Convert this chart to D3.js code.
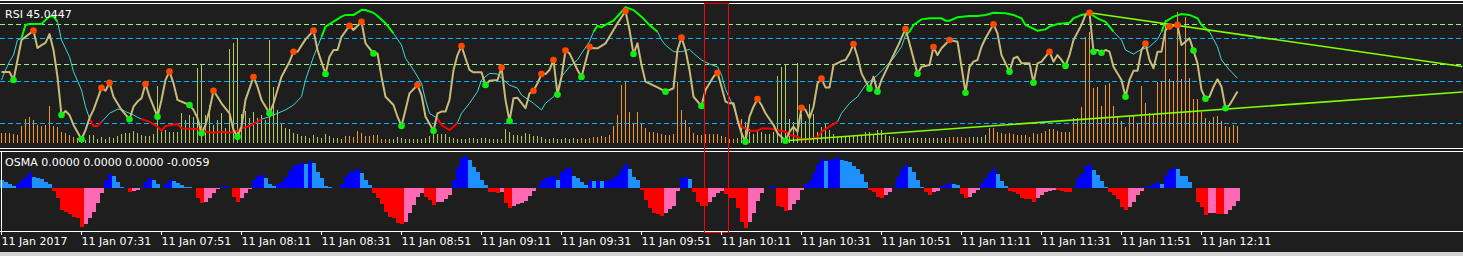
<!DOCTYPE html>
<html lang="en">
  <head>
    <meta charset="UTF-8" />
    <title>RSI / OSMA</title>
    <style>
      body { margin: 0; background: #1e1e1e; }
      svg { display: block; }
      text { font-family: 'DejaVu Sans', sans-serif; font-size: 11px; fill: #ffffff; }
      .crisp { shape-rendering: crispEdges; }
    </style>
    <script src="https://cdn.jsdelivr.net/npm/d3@7"></script>
  </head>
  <body>
    <svg width="1463" height="256"></svg>
    <script>
      // one bar per minute, bar 0 = 11 Jan 07:11
      var tickLabels = ['11 Jan 2017', '11 Jan 07:31', '11 Jan 07:51', '11 Jan 08:11', '11 Jan 08:31',
        '11 Jan 08:51', '11 Jan 09:11', '11 Jan 09:31', '11 Jan 09:51', '11 Jan 10:11', '11 Jan 10:31',
        '11 Jan 10:51', '11 Jan 11:11', '11 Jan 11:31', '11 Jan 11:51', '11 Jan 12:11']
      var tickEvery = 20

      // RSI line (bar, value)
      var rsiBars = [0,2,3,5,8,9,10,11,12,13,14,15,16,17,18,20,21,22,23,25,26,27,28,30,32,33,34,35,36,37,39,40,41,42,43,44,47,48,49,50,
        51,52,53,54,55,57,58,59,60,61,62,63,64,65,67,68,69,70,72,73,74,76,78,79,81,82,83,84,85,87,88,90,91,93,94,95,96,98,99,100,
        101,102,104,105,106,108,109,110,111,112,113,114,115,116,117,118,120,121,122,124,125,126,127,128,129,131,132,133,134,135,136,137,138,139,140,
        141,142,143,144,145,146,147,148,149,151,152,154,156,157,158,159,160,161,164,166,168,169,170,171,172,173,175,176,178,179,180,
        181,182,183,184,185,186,187,188,189,190,191,193,194,196,197,198,199,200,201,202,203,204,205,206,207,208,210,211,212,213,214,215,217,218,219,220,
        222,224,226,227,229,230,232,233,234,235,237,239,240,241,242,243,244,245,246,248,249,250,252,253,254,255,257,258,259,260,
        262,263,264,265,266,267,268,270,271,272,273,274,275,276,277,278,280,281,282,283,284,285,286,287,288,289,290,
        291,292,294,295,296,297,298,299,300,301,302,303,304,305,306,307,308,309]
      var rsiVals = [54.2,54.2,50.5,69.3,73.7,65.5,66.9,67.9,72.1,64.6,51.9,34.0,35.9,34.0,29.3,22.6,26.9,32.6,36.4,46.8,45.4,49.2,42.6,36.4,32.0,37.9,40.3,41.9,48.6,42.6,33.2,41.1,50.5,54.4,48.9,41.1,38.7,36.4,32.6,25.4,
        29.3,36.4,45.4,42.6,39.5,34.8,26.9,23.8,28.5,41.1,46.5,51.9,47.3,41.1,34.8,39.5,45.8,52.0,59.1,63.8,63.8,69.6,73.7,64.6,53.3,61.4,64.6,64.6,70.8,76.0,74.0,77.9,67.7,63.0,63.0,52.0,42.6,38.7,33.2,28.8,
        36.4,44.2,48.1,43.4,33.2,26.6,34.8,35.6,35.6,41.1,55.2,62.2,66.5,60.7,55.2,54.1,54.1,48.1,50.1,50.5,56.3,41.1,31.2,41.9,42.1,37.2,44.2,45.4,48.9,53.3,53.3,55.2,59.9,43.6,52.0,
        64.3,63.0,59.1,55.2,51.9,59.1,66.1,65.4,65.4,67.7,70.8,77.2,82.9,74.0,62.7,67.7,57.5,49.7,47.0,45.0,46.6,64.6,70.4,64.6,55.2,42.6,38.2,45.8,52.0,53.9,47.3,
        40.3,39.5,39.5,31.6,25.4,21.4,33.2,37.9,41.5,38.7,34.8,29.3,25.4,21.9,26.1,28.5,26.1,37.4,36.4,32.4,37.9,48.9,51.1,47.0,47.0,57.5,59.4,59.9,63.0,67.4,61.4,53.6,46.4,52.0,45.0,50.5,
        58.3,66.1,74.5,67.7,53.4,56.7,57.5,66.0,62.2,65.4,69.3,68.5,56.7,44.5,56.7,59.1,59.9,66.1,70.1,76.7,72.4,62.2,54.4,60.7,61.4,58.3,58.3,49.2,58.3,59.1,
        63.8,59.1,62.2,59.9,57.1,62.2,69.3,76.4,81.1,82.1,63.8,64.6,63.3,64.6,63.8,56.7,50.5,42.6,50.5,54.8,54.8,64.6,67.6,59.9,56.0,63.8,63.8,
        74.0,75.6,76.4,66.9,68.5,70.1,64.3,58.3,45.8,41.7,42.6,47.3,50.8,47.3,37.2,38.7,41.9,45.0447]

      // signal line of the RSI (bar, value)
      var sigBars = [0,1,2,3,4,5,6,7,10,11,12,13,14,15,17,18,20,21,22,23,24,25,27,29,30,31,33,34,35,37,39,40,41,44,45,50,51,53,55,57,59,60,62,65,67,69,71,73,75,76,78,
        80,81,83,85,86,88,90,91,93,94,96,98,100,101,103,105,106,107,109,110,112,113,114,115,117,119,120,122,124,125,127,129,130,133,135,136,138,139,140,142,144,145,147,148,149,150,151,153,155,156,158,
        160,162,164,165,166,168,170,172,173,175,177,179,180,181,183,184,185,187,189,190,192,194,196,197,199,200,202,204,205,207,209,210,212,214,216,219,221,223,225,226,227,228,230,232,235,236,237,239,
        242,244,246,248,251,253,255,256,259,261,262,264,267,268,270,272,274,276,277,278,280,281,283,285,287,289,290,291,293,295,297,299,300,302,304,305,307,309]
      var sigVals = [50.5,55.2,59.1,62.2,69.3,70.1,76.4,76.8,76.8,78.7,80.3,80.3,77.9,69.3,61.4,54.4,45.8,37.9,32.4,28.8,28.8,30.7,34.8,36.7,36.7,35.6,34.0,32.9,32.1,30.8,28.5,26.6,28.8,29.8,27.7,27.3,26.1,25.7,26.1,25.7,26.6,27.7,28.8,32.0,33.2,34.8,36.4,38.7,42.6,50.5,61.4,
        70.8,75.6,77.9,80.3,81.1,81.1,83.4,83.4,82.1,80.6,77.2,72.4,66.9,60.7,55.2,48.9,41.1,34.8,32.4,29.3,26.9,28.5,30.4,34.8,39.5,45.0,50.5,53.6,53.3,51.3,48.1,46.6,43.4,39.5,36.4,39.5,42.6,45.8,52.0,56.7,59.9,63.0,68.5,73.2,75.9,75.3,76.4,78.4,82.6,84.7,83.4,
        80.3,76.4,73.2,69.3,66.9,63.8,63.8,64.9,63.0,59.9,58.0,56.7,52.8,46.0,37.9,32.4,28.5,26.6,26.6,27.7,27.7,26.9,26.1,24.6,23.8,22.6,22.6,23.5,26.1,28.5,30.8,34.8,39.5,42.6,48.1,52.8,56.7,60.7,66.1,71.6,73.2,76.4,79.0,79.5,79.5,78.4,78.4,80.0,
        80.6,80.6,81.1,82.1,81.9,81.1,79.5,76.4,73.7,74.3,75.6,76.8,77.4,79.5,81.1,81.9,79.5,77.9,75.6,73.2,69.3,64.6,62.7,64.9,66.1,69.6,73.2,77.9,80.3,81.5,81.1,79.5,76.4,73.2,66.1,59.9,55.2,51.3]

      // swing markers on the RSI line
      var peakBars = [8,25,27,36,42,53,63,73,78,87,90,104,115,125,133,135,138,141,147,156,170,179,189,200,205,213,226,233,237,248,262,272,286,292,294]
      var troughBars = [3,15,20,32,39,47,50,59,67,81,93,100,108,121,127,139,145,158,166,175,186,196,217,219,229,241,252,258,266,273,275,281,298,301,306]

      var rsiLevelsBlue = [30, 50, 70]
      var rsiLevelsGreen = [57.9, 76.4]
      var sigHigh = 70
      var sigLow = 32.5

      // tick volume per bar
      var volume = [10,10,10,9,8,17,24,26,23,18,17,18,37,17,16,11,10,8,6,5,
        6,3,8,8,4,6,4,6,5,7,9,10,10,12,10,8,7,7,9,57,
        13,13,11,11,11,30,23,28,26,75,78,28,38,18,23,30,15,94,100,105,
        29,32,25,31,25,28,23,103,56,33,19,15,14,10,9,7,7,5,8,6,
        5,9,7,5,5,4,7,7,6,12,10,7,7,8,8,4,4,4,4,6,
        5,4,4,4,4,4,5,7,9,9,9,9,6,5,4,4,4,5,5,4,
        5,5,4,4,4,4,14,11,8,8,7,10,9,7,7,6,4,4,5,4,
        4,5,4,5,4,5,4,5,6,6,7,6,8,17,28,58,62,31,20,31,
        19,15,11,11,10,9,8,8,9,61,33,23,16,10,8,8,9,9,9,9,
        7,6,4,4,5,24,21,14,9,12,11,9,9,11,67,76,79,24,21,80,
        29,22,39,29,11,16,19,13,9,6,7,7,7,7,7,7,11,11,8,13,
        13,8,7,6,5,5,5,5,5,5,5,5,5,5,5,5,5,6,6,6,
        6,5,6,6,6,6,8,15,15,11,10,9,10,9,8,8,8,6,10,9,
        10,12,14,14,12,11,11,11,25,25,36,106,111,55,56,37,58,60,37,27,
        22,16,26,28,19,57,40,30,28,61,61,123,64,62,131,64,126,65,44,44,
        31,25,22,26,27,22,17,16,18,17]
      // bar ranges drawn in the second volume colour
      var volOrangeRanges = [[0, 19], [86, 96], [145, 145], [147, 183], [237, 242], [247, 309]]

      // OsMA histogram per bar
      var osma = [.00386,.00279,.00186,.00126,.00186,.00386,.00544,.00698,.00544,.00465,
        .00419,.00312,.00186,-.00126,-.00432,-.01009,-.01083,-.01195,-.01316,-.01395,
        -.01781,-.01674,-.01395,-.01083,-.00698,-.00233,.00386,.00651,.00591,.00312,
        .00079,.00014,-.00153,-.00126,-.00079,.00079,.00312,.00465,.00386,.00186,
        .00033,.00186,.00386,.00339,.00233,.00153,.00079,.00047,.00033,-.00465,
        -.00698,-.00618,-.00432,-.00233,-.00047,.00079,.00126,.00033,-.00386,-.00618,
        -.00432,-.00233,-.00014,.00386,.00591,.00618,.00465,.00186,.00107,.00186,
        .00279,.00544,.00804,.01056,.0113,.01163,.01144,.01269,.01163,.00777,
        .00465,.00126,.00079,.00023,.00033,.00186,.00544,.00744,.00804,.00897,
        .00721,.00386,.0014,-.00233,-.00432,-.00744,-.01083,-.01316,-.01395,-.01628,
        -.01651,-.01548,-.01163,-.00777,-.00386,-.00233,-.00386,-.00544,-.00777,-.00651,
        -.00642,-.00498,-.00312,.00386,.01009,.01395,.01502,.01316,.01009,.00744,
        .00386,.00153,-.00153,-.00186,-.00233,-.00153,-.00698,-.00897,-.00804,-.00744,
        -.00698,-.00591,-.00339,-.00126,.00079,.00339,.00465,.00544,.00553,.00386,
        .00777,.00897,.0093,.00591,.00465,.00279,.00153,.00339,.0033,.00339,
        .0033,.00339,.00386,.00465,.00618,.00897,.01116,.00897,.00544,.00386,
        -.00079,-.00544,-.00897,-.01163,-.01209,-.01269,-.01163,-.00963,-.00804,-.00126,
        .00498,.00507,.00432,-.00153,-.00618,-.00804,-.00814,-.00651,-.00386,-.00233,
        -.00126,-.00279,-.00432,-.00446,-.00897,-.01581,-.01827,-.01581,-.01163,-.00591,
        -.00233,.00033,.0006,.00093,-.00804,-.00851,-.01056,-.01009,-.00744,-.00544,
        -.00079,.00186,.00339,.00698,.01116,.01362,.01269,.01316,.01362,.01395,
        .01316,.01269,.01209,.01056,.00897,.00651,.00312,-.00079,-.00153,-.00386,
        -.00432,-.00312,-.00153,.00079,.00544,.00897,.01083,.01009,.00744,.00386,
        .00079,-.00153,-.00312,-.00153,-.00126,.00093,.00153,.00233,.00186,.00153,
        -.00279,-.00432,-.00386,-.00233,-.00079,.00233,.00465,.00777,.00897,.00651,
        .00339,.00126,-.00126,-.00186,-.00279,-.00432,-.00498,-.00512,-.00618,-.00432,
        -.00312,-.00186,-.00126,-.00079,-.00088,-.00126,-.00153,-.00186,.00079,.00465,
        .00651,.01056,.01083,.00851,.00618,.00339,.00079,-.00153,-.00312,-.00498,
        -.00851,-.01009,-.00851,-.00618,-.00312,-.00126,.00079,.00126,.00186,.00312,
        .00186,.00618,.00851,.0093,.00897,.00591,.00581,.00312,.00033,-.00651,
        -.00851,-.01242,-.01163,-.01153,-.01176,-.01186,-.01176,-.01009,-.00804,-.00591]
      var osmaOther = [0, 0, 0]

      // trend lines drawn on the RSI window (bar, value)
      var trendUpper = [[272, 82.1], [365.25, 56.8]]
      var trendLower = [[196, 21.9], [365.25, 44.8]]
      // red selection box, bar range
      var boxBars = [175.5, 181.5]

      var width = 1463
      var svg = d3.select('svg')

      var x = d3.scaleLinear().domain([0, 365.25]).range([1.5, 1462.5])
      var yR = d3.scaleLinear().domain([30, 70]).range([123.5, 38.5])
      var yV = d3.scaleLinear().domain([0, 140]).range([143, 3])
      var yO = d3.scaleLinear().domain(d3.extent(osma)).range([227.5, 156])
      var px = function(v) { return Math.round(v) + 0.5 }

      svg.append('rect').attr('width', width).attr('height', 256).attr('fill', '#1e1e1e')
      svg.append('rect').attr('y', 252).attr('width', width).attr('height', 4).attr('fill', '#d4d4d4')

      var defs = svg.append('defs')
      defs.append('clipPath').attr('id', 'clipR')
        .append('rect').attr('x', 0).attr('y', 4).attr('width', width).attr('height', 143)
      defs.append('clipPath').attr('id', 'clipO')
        .append('rect').attr('x', 0).attr('y', 152).attr('width', width).attr('height', 79)

      // ---- RSI window ----
      var gR = svg.append('g').attr('clip-path', 'url(#clipR)')

      var isOrange = function(i) {
        return volOrangeRanges.some(function(r) { return i >= r[0] && i <= r[1] })
      }
      gR.selectAll('rect.vol')
        .data(volume)
        .enter()
        .append('rect')
        .attr('class', 'vol crisp')
        .attr('x', function(d, i) { return x(i) - 0.5 })
        .attr('y', function(d) { return yV(d) })
        .attr('width', 1)
        .attr('height', function(d) { return yV(0) - yV(d) })
        .attr('fill', function(d, i) { return isOrange(i) ? '#f0962a' : '#b4c85a' })

      var levels = rsiLevelsBlue.map(function(v) { return { v: v, c: '#00b4ff' } })
        .concat(rsiLevelsGreen.map(function(v) { return { v: v, c: '#98f07e' } }))
      gR.selectAll('line.level')
        .data(levels)
        .enter()
        .append('line')
        .attr('class', 'level crisp')
        .attr('x1', 0)
        .attr('x2', width)
        .attr('y1', function(d) { return px(yR(d.v) - 0.5) })
        .attr('y2', function(d) { return px(yR(d.v) - 0.5) })
        .attr('stroke', function(d) { return d.c })
        .attr('stroke-dasharray', '5,3')

      var line = d3.line()
        .x(function(d) { return x(d[0]) })
        .y(function(d) { return yR(d[1]) })

      // signal line, split into zones
      var sig = sigBars.map(function(b, k) { return [b, sigVals[k]] })
      var zone = function(a, b) {
        if (a[1] >= sigHigh && b[1] >= sigHigh) return 'hi'
        if (a[1] <= sigLow && b[1] <= sigLow) return 'lo'
        return 'mid'
      }
      var groups = []
      for (var k = 1; k < sig.length; k++) {
        var z = zone(sig[k - 1], sig[k])
        var last = groups[groups.length - 1]
        if (last && last.z === z) last.pts.push(sig[k])
        else groups.push({ z: z, pts: [sig[k - 1], sig[k]] })
      }
      groups.sort(function(a, b) { return (a.z === 'mid' ? 0 : 1) - (b.z === 'mid' ? 0 : 1) })
      gR.selectAll('path.sig')
        .data(groups)
        .enter()
        .append('path')
        .attr('d', function(d) { return line(d.pts) })
        .attr('fill', 'none')
        .attr('stroke', function(d) { return d.z === 'hi' ? '#00ff00' : d.z === 'lo' ? '#ff0000' : '#3fd6d6' })
        .attr('stroke-width', function(d) { return d.z === 'mid' ? 1 : 2 })

      var rsi = rsiBars.map(function(b, k) { return [b, rsiVals[k]] })
      gR.append('path')
        .attr('d', line(rsi))
        .attr('fill', 'none')
        .attr('stroke', '#c9bb7a')
        .attr('stroke-width', 2)
        .attr('stroke-linejoin', 'round')

      gR.selectAll('path.trend')
        .data([trendUpper, trendLower])
        .enter()
        .append('path')
        .attr('d', line)
        .attr('fill', 'none')
        .attr('stroke', '#80ff00')
        .attr('stroke-width', 1.6)

      var rsiAt = function(b) { return rsiVals[rsiBars.indexOf(b)] }
      gR.selectAll('circle.pk')
        .data(peakBars)
        .enter()
        .append('circle')
        .attr('cx', function(d) { return x(d) })
        .attr('cy', function(d) { return yR(rsiAt(d)) })
        .attr('r', 3.3)
        .attr('fill', '#ff4800')
      gR.selectAll('circle.tr')
        .data(troughBars)
        .enter()
        .append('circle')
        .attr('cx', function(d) { return x(d) })
        .attr('cy', function(d) { return yR(rsiAt(d)) })
        .attr('r', 3.3)
        .attr('fill', '#10f010')

      svg.append('text').attr('x', 5).attr('y', 18)
        .text('RSI ' + rsiVals[rsiVals.length - 1].toFixed(4))

      // ---- OsMA window ----
      var gO = svg.append('g').attr('clip-path', 'url(#clipO)')
      var osmaColor = function(d, i) {
        var prev = i > 0 ? osma[i - 1] : Infinity
        if (d >= 0) return d > prev ? '#0000ff' : '#1e90ff'
        return d < prev ? '#ff0000' : '#ff69b4'
      }
      gO.selectAll('rect')
        .data(osma)
        .enter()
        .append('rect')
        .attr('class', 'crisp')
        .attr('x', function(d, i) { return x(i) - 1.5 })
        .attr('width', 4)
        .attr('y', function(d) { return Math.min(yO(d), yO(0)) })
        .attr('height', function(d) { return Math.abs(yO(d) - yO(0)) })
        .attr('fill', osmaColor)

      svg.append('text').attr('x', 5).attr('y', 166)
        .text('OSMA ' + osmaOther.map(function(v) { return v.toFixed(4) }).join(' ') + ' ' + osma[osma.length - 1].toFixed(4))

      // ---- frames ----
      var hLines = [0.5, 3.5, 148.5, 151.5, 231.5]
      svg.selectAll('line.frame')
        .data(hLines)
        .enter()
        .append('line')
        .attr('class', 'frame crisp')
        .attr('x1', 0).attr('x2', width)
        .attr('y1', function(d) { return d }).attr('y2', function(d) { return d })
        .attr('stroke', '#ffffff')
      svg.append('line').attr('class', 'crisp')
        .attr('x1', 1.5).attr('x2', 1.5).attr('y1', 152).attr('y2', 231)
        .attr('stroke', '#ffffff')

      var bx0 = px(x(boxBars[0]))
      var bx1 = px(x(boxBars[1]))
      svg.append('rect')
        .attr('class', 'crisp')
        .attr('x', bx0)
        .attr('y', 3.5)
        .attr('width', bx1 - bx0)
        .attr('height', 229)
        .attr('fill', 'none')
        .attr('stroke', '#ff0000')
        .attr('stroke-width', 1)

      // ---- time axis ----
      var xAxis = d3.axisBottom(x)
        .tickValues(tickLabels.map(function(t, k) { return k * tickEvery }))
        .tickSize(3)
        .offset(0)
        .tickFormat(function(d, k) { return tickLabels[k] })
      var gx = svg.append('g')
        .attr('transform', 'translate(0, 231.5)')
        .attr('font-family', 'DejaVu Sans')
        .attr('font-size', 11)
        .call(xAxis)
      gx.select('.domain').remove()
      gx.selectAll('line').attr('stroke', '#ffffff').attr('class', 'crisp')
      gx.selectAll('text')
        .attr('text-anchor', 'start')
        .attr('x', 0)
        .attr('y', 13.5)
        .attr('dy', 0)
        .attr('fill', '#ffffff')
    </script>
  </body>
</html>
